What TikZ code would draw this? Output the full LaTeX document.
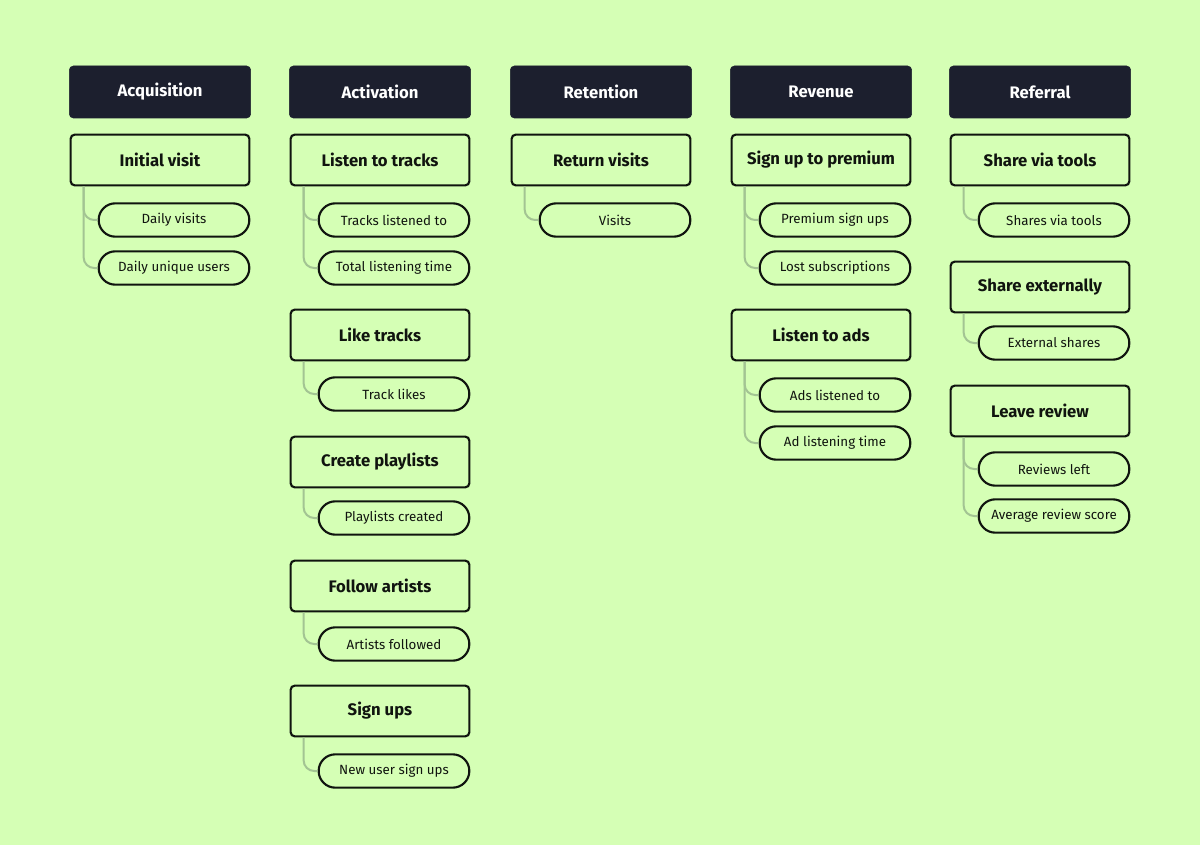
\documentclass[tikz,border=0pt]{standalone}
\usepackage{fontspec}
\setmainfont{Fira Sans}
\definecolor{bgreen}{HTML}{D5FFB5}
\definecolor{navy}{HTML}{1C1F2E}
\definecolor{ink}{HTML}{10140F}
\definecolor{stem}{HTML}{A3C493}
\tikzset{
  stage/.style={draw=navy, fill=navy, rounded corners=3pt, minimum width=136pt, minimum height=39pt, text=white, font=\fontsize{12.5}{14}\selectfont\bfseries},
  task/.style={draw=ink, line width=1.6pt, fill=bgreen, rounded corners=3pt, minimum width=134pt, minimum height=38pt, text=ink, font=\fontsize{12.5}{14}\selectfont\bfseries},
  metric/.style={draw=ink, line width=1.6pt, fill=bgreen, rounded corners=12.5pt, minimum width=113pt, minimum height=25pt, text=ink, font=\fontsize{10}{12}\selectfont},
  link/.style={draw=stem, line width=1.5pt, rounded corners=8pt},
}
\begin{document}
\begin{tikzpicture}[x=0.75pt, y=-0.75pt]
\useasboundingbox[fill=bgreen] (0,0) rectangle (1200,845);
% stage headers
\foreach \cx/\name/\txt in {160/acq/Acquisition, 380/act/Activation, 601/ret/Retention, 821/rev/Revenue, 1040/ref/Referral}
  \node[stage] (\name) at (\cx,92) {\txt};
% tasks: column x, y, name, text
\foreach \cx/\y/\name/\txt in {
  160/160/visit/Initial visit,
  380/160/listen/Listen to tracks, 380/335/like/Like tracks, 380/462/create/Create playlists,
  380/586/follow/Follow artists, 380/711/signup/Sign ups,
  601/160/return/Return visits,
  821/160/premium/Sign up to premium, 821/335/ads/Listen to ads,
  1040/160/tools/Share via tools, 1040/287/extern/Share externally, 1040/411/review/Leave review}
  \node[task] (\name) at (\cx,\y) {\txt};
% metrics: parent task, y, name, text
\foreach \up/\y/\name/\txt in {
  visit/220/m1/Daily visits, visit/268/m2/Daily unique users,
  listen/220/m3/Tracks listened to, listen/268/m4/Total listening time,
  like/394/m5/Track likes, create/518/m6/Playlists created,
  follow/644/m7/Artists followed, signup/771/m8/New user sign ups,
  return/220/m9/Visits,
  premium/220/m10/Premium sign ups, premium/268/m11/Lost subscriptions,
  ads/395/m12/Ads listened to, ads/443/m13/Ad listening time,
  tools/220/m14/Shares via tools, extern/343/m15/External shares,
  review/469/m16/Reviews left, review/516/m17/Average review score}
{
  \path (\up.center) ++(14,0) coordinate (c);
  \coordinate (r) at (0,\y);
  \node[metric] (\name) at (c |- r) {\txt};
  \draw[link] ([xshift=10.5pt]\up.south west) |- (\name.west);
}
\end{tikzpicture}
\end{document}
